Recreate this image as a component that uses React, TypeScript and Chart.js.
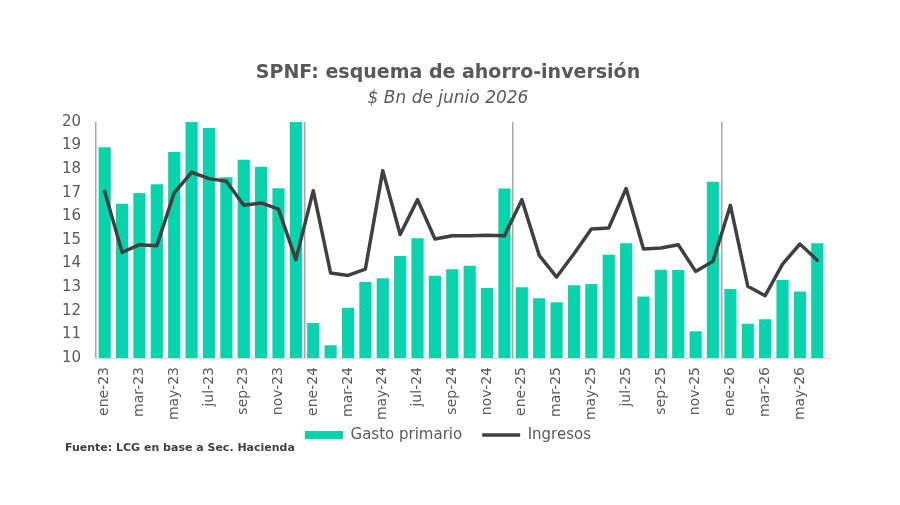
import React, { useEffect, useRef } from "react";
import { Chart, registerables } from "chart.js";

Chart.register(...registerables);

const TITLE = "SPNF: esquema de ahorro-inversión";
const SUBTITLE = "$ Bn de junio 2026";
const SOURCE = "Fuente: LCG en base a Sec. Hacienda";

const categories = [
  "ene-23", "feb-23", "mar-23", "abr-23", "may-23", "jun-23", "jul-23", "ago-23", "sep-23", "oct-23", "nov-23", "dic-23",
  "ene-24", "feb-24", "mar-24", "abr-24", "may-24", "jun-24", "jul-24", "ago-24", "sep-24", "oct-24", "nov-24", "dic-24",
  "ene-25", "feb-25", "mar-25", "abr-25", "may-25", "jun-25", "jul-25", "ago-25", "sep-25", "oct-25", "nov-25", "dic-25",
  "ene-26", "feb-26", "mar-26", "abr-26", "may-26", "jun-26",
];

const gastoPrimario = [
  18.93, 16.54, 16.99, 17.36, 18.73, 20.0, 19.75, 17.66, 18.4, 18.1, 17.19, 20.0,
  11.48, 10.54, 12.13, 13.22, 13.38, 14.32, 15.07, 13.49, 13.76, 13.91, 12.97, 17.18,
  13.0, 12.53, 12.36, 13.08, 13.14, 14.38, 14.86, 12.61, 13.74, 13.73, 11.13, 17.47,
  12.92, 11.45, 11.64, 13.31, 12.82, 14.86,
];

const ingresos = [
  17.06, 14.48, 14.8, 14.76, 17.0, 17.87, 17.6, 17.49, 16.47, 16.57, 16.31, 14.17,
  17.09, 13.6, 13.5, 13.77, 17.94, 15.23, 16.71, 15.04, 15.18, 15.18, 15.2, 15.18,
  16.71, 14.35, 13.43, 14.42, 15.47, 15.51, 17.18, 14.62, 14.66, 14.8, 13.67, 14.1,
  16.47, 13.04, 12.64, 13.98, 14.83, 14.14,
];

const yTicks = { min: 10, max: 20, step: 1 };

const FONT = '"DejaVu Sans", "Liberation Sans", sans-serif';
const TEXT = "#595959";

const sourcePlugin = {
  id: "sourceNote",
  afterDraw(chart: any) {
    const ctx = chart.ctx;
    ctx.save();
    ctx.font = `bold 11px ${FONT}`;
    ctx.fillStyle = "#404040";
    ctx.textBaseline = "middle";
    ctx.textAlign = "left";
    ctx.fillText(SOURCE, 65, 448);
    ctx.restore();
  },
};

const noLabelClip = (s: any) => {
  s._computeLabelArea = () => undefined;
};

export default function App() {
  const ref = useRef<HTMLCanvasElement | null>(null);

  useEffect(() => {
    if (!ref.current) return;
    const chart = new Chart(ref.current, {
      type: "bar",
      data: {
        labels: categories,
        datasets: [
          {
            type: "bar",
            label: "Gasto primario",
            data: gastoPrimario,
            backgroundColor: "#07d4ad",
            borderWidth: 0,
            barPercentage: 0.7,
            categoryPercentage: 1,
            order: 1,
            pointStyle: "rect",
          } as any,
          {
            type: "line",
            label: "Ingresos",
            data: ingresos,
            borderColor: "#404040",
            backgroundColor: "#404040",
            borderWidth: 3.5,
            borderJoinStyle: "round",
            borderCapStyle: "round",
            pointRadius: 0,
            tension: 0,
            order: 0,
            pointStyle: "line",
          } as any,
        ],
      },
      options: {
        animation: false,
        responsive: true,
        maintainAspectRatio: false,
        layout: { padding: { top: 0, left: 70, right: 74, bottom: 52.5 } },
        plugins: {
          title: {
            display: true,
            text: TITLE,
            color: TEXT,
            font: { family: FONT, size: 19, weight: "bold" },
            padding: { top: 62, bottom: 2 },
          },
          subtitle: {
            display: true,
            text: SUBTITLE,
            color: TEXT,
            font: { family: FONT, size: 17, style: "italic", weight: "normal" },
            padding: { top: 2, bottom: 12.8 },
          },
          legend: {
            position: "bottom",
            labels: {
              color: TEXT,
              font: { family: FONT, size: 15 },
              usePointStyle: true,
              pointStyleWidth: 38,
              boxHeight: 8,
              padding: 20,
              sort: (a: any, b: any) => a.datasetIndex - b.datasetIndex,
            },
          },
          tooltip: { enabled: false },
        },
        scales: {
          x: {
            offset: true,
            grid: {
              display: true,
              offset: true,
              drawTicks: false,
              drawOnChartArea: true,
              lineWidth: 1.5,
              color: (c: any) => (typeof c.index === "number" && c.index % 12 === 0 ? "#a8a8a8" : "rgba(0,0,0,0)"),
            },
            border: { display: true, color: "#d9d9d9", width: 1 },
            ticks: {
              autoSkip: false,
              minRotation: 90,
              maxRotation: 90,
              padding: 9,
              color: TEXT,
              font: { family: FONT, size: 14 },
              callback: (_v: any, i: number) => (i % 2 === 0 ? categories[i] : ""),
            },
            afterFit: (s: any) => {
              s.height = 49.5;
              noLabelClip(s);
            },
          },
          y: {
            min: yTicks.min,
            max: yTicks.max,
            grid: { display: false, drawTicks: false },
            border: { display: false },
            ticks: {
              stepSize: yTicks.step,
              padding: 15,
              color: TEXT,
              font: { family: FONT, size: 15 },
            },
            afterFit: (s: any) => {
              s.width = 26;
              noLabelClip(s);
            },
          },
        },
      },
      plugins: [sourcePlugin],
    });
    return () => chart.destroy();
  }, []);

  return (
    <div style={{ position: "absolute", left: 0, top: 0, width: 900, height: 505, background: "#fff" }}>
      <canvas ref={ref} />
    </div>
  );
}
